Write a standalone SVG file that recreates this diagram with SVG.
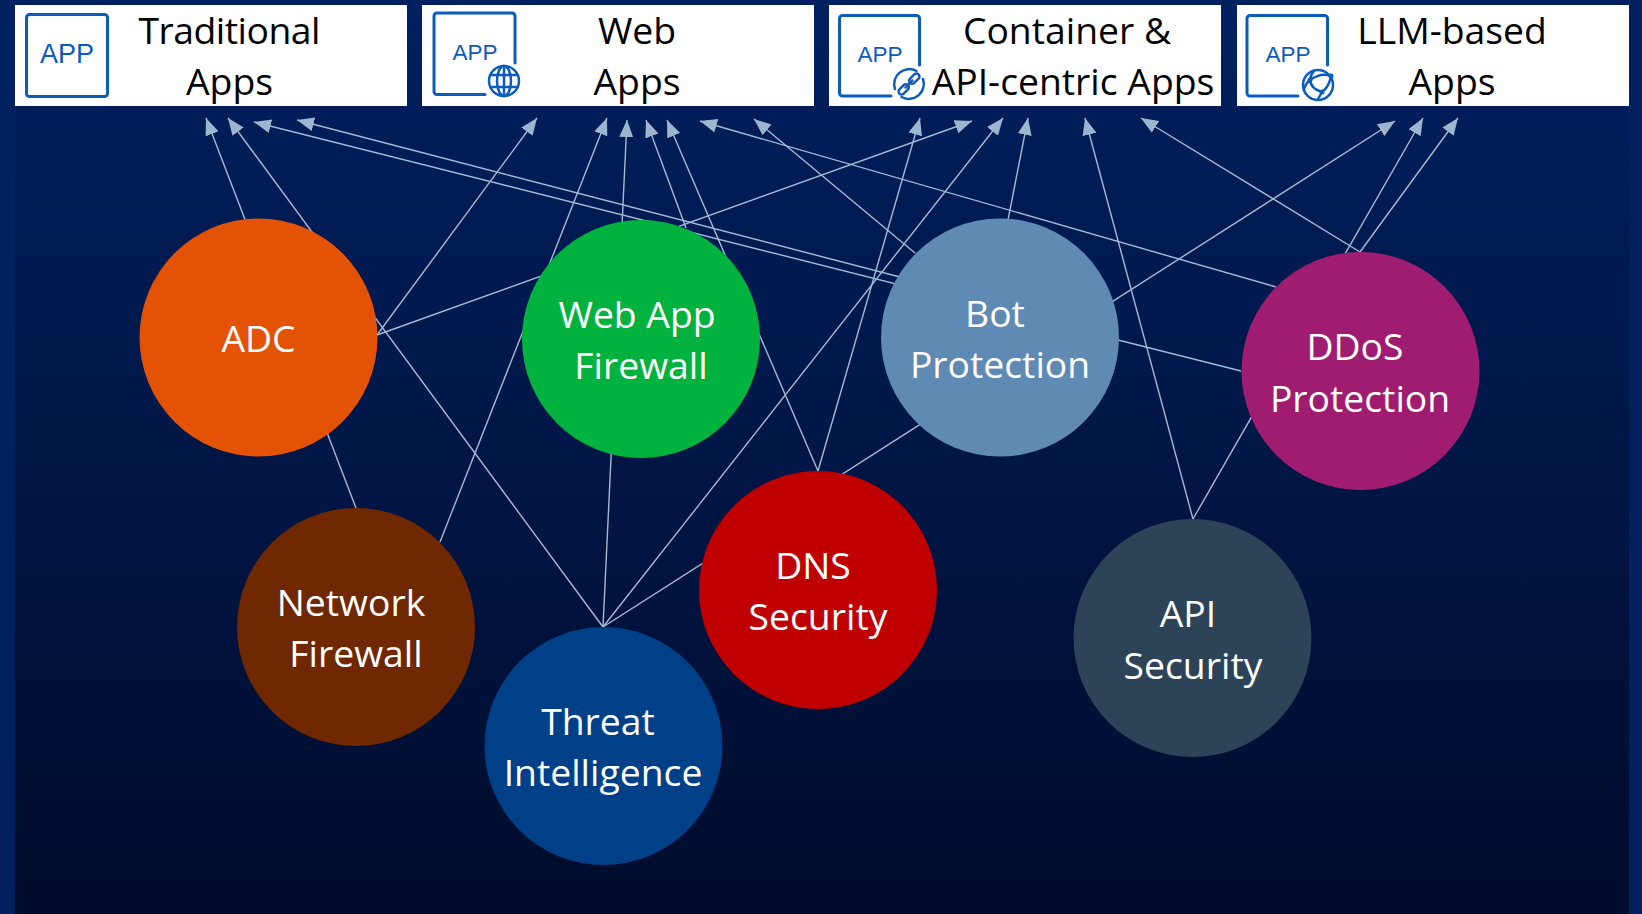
<svg xmlns="http://www.w3.org/2000/svg" width="1642" height="914" viewBox="0 0 1642 914">
<style>
.hdr{font:37.300px "Open Sans","Noto Sans",sans-serif;fill:#000;text-anchor:middle}
.lbl{font:37.300px "Open Sans","Noto Sans",sans-serif;fill:#fff;text-anchor:middle}
.app{font-family:"Liberation Sans",Arial,sans-serif;fill:#0b5cbd;text-anchor:middle}
.ib{fill:none;stroke:#0b5cbd;stroke-width:3;stroke-linecap:round;stroke-linejoin:round}
.ic{fill:none;stroke:#0b5cbd;stroke-width:2.500;stroke-linecap:round}
#connectors line{stroke:#a5bad2;stroke-width:1.400;marker-end:url(#arr)}
.box{fill:#fff}
</style>
<defs>
<linearGradient id="bg" x1="0" y1="0" x2="0" y2="1"><stop offset="0" stop-color="#002060"/><stop offset="1" stop-color="#000c2c"/></linearGradient>
<marker id="arr" markerUnits="userSpaceOnUse" markerWidth="18" markerHeight="14" refX="17" refY="7" orient="auto"><path d="M0 0L17 7L0 14Z" fill="#9db5ce"/></marker>
</defs>
<rect width="1642" height="914" fill="#002060"/>
<rect x="15" y="0" width="1614" height="914" fill="url(#bg)"/>
<g id="connectors">
<line x1="356" y1="508" x2="206" y2="118"/>
<line x1="603" y1="627" x2="228" y2="118"/>
<line x1="1241" y1="371" x2="254" y2="122"/>
<line x1="900" y1="277" x2="297" y2="120"/>
<line x1="377" y1="335" x2="537" y2="118"/>
<line x1="440" y1="542" x2="607" y2="118"/>
<line x1="603" y1="627" x2="627" y2="120"/>
<line x1="686" y1="228" x2="646" y2="120"/>
<line x1="818" y1="471" x2="667" y2="120"/>
<line x1="1276" y1="287" x2="700" y2="121"/>
<line x1="915" y1="253" x2="754" y2="119"/>
<line x1="818" y1="471" x2="920" y2="118"/>
<line x1="377" y1="335" x2="972" y2="121"/>
<line x1="603" y1="627" x2="1003" y2="118"/>
<line x1="1008" y1="220" x2="1028" y2="118"/>
<line x1="1193" y1="519" x2="1085" y2="118"/>
<line x1="1360" y1="252" x2="1141" y2="118"/>
<line x1="603" y1="627" x2="1395" y2="121"/>
<line x1="1193" y1="519" x2="1423" y2="118"/>
<line x1="1360" y1="252" x2="1458" y2="118"/>
</g>
<g id="traditional">
<rect class="box" x="15" y="5" width="392" height="101"/>
<rect class="ib" x="26.500" y="14.500" width="81" height="82" rx="3"/>
<text class="app" x="67" y="63" font-size="27">APP</text>
<text class="hdr" x="229.500" y="44" textLength="182">Traditional</text>
<text class="hdr" x="229.500" y="95">Apps</text>
</g>
<g id="web">
<rect class="box" x="422" y="5" width="392" height="101"/>
<path class="ib" d="M485 94.500H437a3 3 0 0 1-3-3V16a3 3 0 0 1 3-3H512a3 3 0 0 1 3 3V63"/>
<text class="app" x="475" y="60" font-size="22.500">APP</text>
<circle class="ic" cx="504" cy="81" r="15"/><ellipse class="ic" cx="504" cy="81" rx="7" ry="15"/><path class="ic" d="M504 66V96M491 75H517M491 87H517"/>
<text class="hdr" x="637" y="44">Web</text>
<text class="hdr" x="637" y="95">Apps</text>
</g>
<g id="container">
<rect class="box" x="829" y="5" width="392" height="101"/>
<path class="ib" d="M891 96H842.500a3 3 0 0 1-3-3V18.500a3 3 0 0 1 3-3H916.500a3 3 0 0 1 3 3V65"/>
<text class="app" x="880" y="62" font-size="22.500">APP</text>
<path class="ic" d="M916.500 71A15 15 0 0 0 895 89M923 79A15 15 0 0 1 901.500 97"/>
<g transform="rotate(-45 909 84)"><rect class="ic" x="895.500" y="81" width="12" height="6" rx="3"/><rect class="ic" x="910.500" y="81" width="12" height="6" rx="3"/><path class="ic" d="M904 84H914"/></g>
<text class="hdr" x="1067" y="44">Container &amp;</text>
<text class="hdr" x="1073" y="95">API-centric Apps</text>
</g>
<g id="llm">
<rect class="box" x="1237" y="5" width="392" height="101"/>
<path class="ib" d="M1298 96H1250a3 3 0 0 1-3-3V18.500a3 3 0 0 1 3-3H1324.500a3 3 0 0 1 3 3V65"/>
<text class="app" x="1288" y="62" font-size="22.500">APP</text>
<circle class="ic" cx="1318" cy="85" r="15"/><path class="ic" d="M1310 80Q1321 72 1331 76M1310 80Q1311 89 1322 92M1322 92Q1329 87 1331 76M1310 80Q1305 84 1304 90M1322 92L1318 99M1310 80Q1311 74 1314 71"/><circle cx="1310" cy="80" r="2.500" fill="#0b5cbd"/><circle cx="1322" cy="92" r="2.500" fill="#0b5cbd"/><circle cx="1331" cy="76" r="2.500" fill="#0b5cbd"/>
<text class="hdr" x="1452" y="44">LLM-based</text>
<text class="hdr" x="1452" y="95">Apps</text>
</g>
<g id="adc"><circle cx="258.500" cy="337.500" r="119" fill="#e35205"/><text class="lbl" x="258.500" y="352">ADC</text></g>
<g id="waf"><circle cx="641" cy="339" r="119" fill="#02b23e"/><text class="lbl" x="637" y="328">Web App</text><text class="lbl" x="641" y="379">Firewall</text></g>
<g id="bot"><circle cx="1000" cy="337.500" r="119" fill="#5e8ab4"/><text class="lbl" x="995" y="327">Bot</text><text class="lbl" x="1000" y="378">Protection</text></g>
<g id="ddos"><circle cx="1360.500" cy="371" r="119" fill="#a01c70"/><text class="lbl" x="1355" y="360">DDoS</text><text class="lbl" x="1360" y="412">Protection</text></g>
<g id="nfw"><circle cx="356" cy="627" r="119" fill="#6f2800"/><text class="lbl" x="351" y="616">Network</text><text class="lbl" x="356" y="667">Firewall</text></g>
<g id="dns"><circle cx="818" cy="590" r="119" fill="#c00000"/><text class="lbl" x="813" y="579">DNS</text><text class="lbl" x="818" y="630">Security</text></g>
<g id="threat"><circle cx="603.500" cy="746" r="119" fill="#004088"/><text class="lbl" x="598" y="735">Threat</text><text class="lbl" x="603" y="786">Intelligence</text></g>
<g id="api"><circle cx="1192.500" cy="638" r="119" fill="#2d4458"/><text class="lbl" x="1188" y="627">API</text><text class="lbl" x="1193" y="679">Security</text></g>
</svg>
